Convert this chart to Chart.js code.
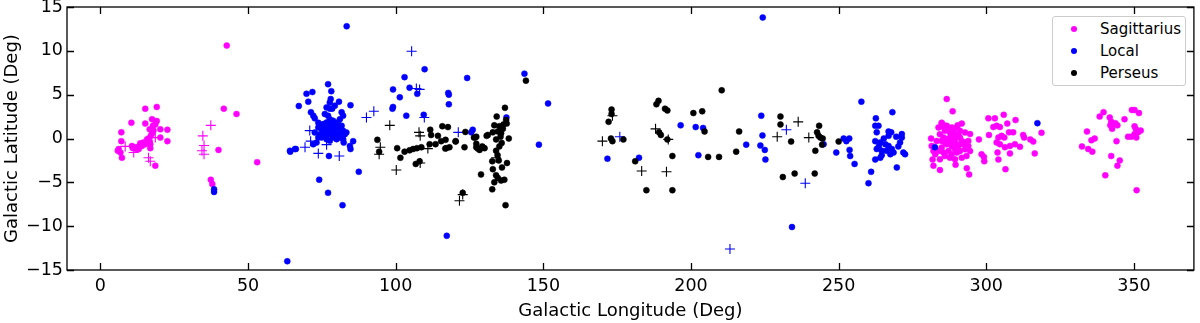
<!DOCTYPE html>
<html>
<head>
<meta charset="utf-8">
<script src="https://cdn.jsdelivr.net/npm/chart.js@4.4.1/dist/chart.umd.min.js"></script>
<style>
  html, body { margin: 0; padding: 0; background: #fff; }
  #wrap { position: relative; width: 1200px; height: 323px; }
  #legend {
    position: absolute; left: 1052px; top: 16px; width: 132px; height: 68px;
    border: 1px solid #cccccc; border-radius: 3px; background: #fff;
    font-family: "DejaVu Sans", sans-serif; font-size: 15px; color: #000;
  }
  #legend .row { position: absolute; left: 0; height: 20px; line-height: 20px; }
  #legend .dot { position: absolute; left: 18px; top: 7px; width: 6px; height: 6px; border-radius: 50%; }
  #legend .lbl { position: absolute; left: 47px; top: 0; white-space: nowrap; }
</style>
</head>
<body>
<div id="wrap">
  <canvas id="chartjs_scatter" width="1200" height="323"></canvas>
  <div id="legend"></div>
</div>
<script>
'use strict';

// tick labels
var xTicks = [0, 50, 100, 150, 200, 250, 300, 350];
var yTicks = [-15, -10, -5, 0, 5, 10, 15];

// series names and colours
var armNames = ['Sagittarius', 'Local', 'Perseus'];
var armColors = ['#ff00ff', '#0000ff', '#000000'];

// [longitude, latitude] in degrees
var sagittariusDots = [
    [5.9,-1.4],[6.2,-1.2],[6.8,-1.6],[7.3,-2.2],[7.1,0.7],[7.1,-0.3],
    [10.5,1.8],[10.7,-0.85],[11.0,-1.1],[11.8,-1.0],[12.2,-1.2],[12.9,-0.95],[13.5,-0.55],[14.1,-0.85],
    [14.6,-0.45],[15.2,-0.65],[15.2,3.4],[15.2,1.7],[15.8,-0.1],[16.0,-0.45],[16.7,-0.3],[16.9,-0.65],
    [16.9,-1.1],[16.7,1.05],[17.1,0.3],[17.5,0.6],[17.8,1.45],[18.0,0.9],[17.5,2.2],[18.6,1.6],[19.1,2.0],
    [19.1,3.6],[20.3,1.05],[20.3,0.1],[22.7,1.0],[22.7,-0.3],[18.6,-3.1],[13.0,-1.2],[16.3,0.0],
    [37.4,-4.7],[37.9,-5.2],[40.0,-1.3],[41.8,3.4],[42.8,10.6],[46.1,2.8],[53.1,-2.7],
    [281.3,0.0],[281.5,-0.85],[281.8,-2.4],[282.1,-3.1],[284.3,-3.6],[286.6,4.5],[288.6,3.1],[290.3,1.5],
    [291.7,1.7],[284.9,1.8],[286.0,1.45],[289.6,-3.0],[293.4,-3.4],[294.2,-4.1],[294.5,0.5],[297.5,-0.1],
    [298.4,-1.8],[299.2,-2.1],[299.3,-2.6],
    [283.8,1.26],[284.9,1.72],[285.5,1.3],[286.6,1.45],[286.0,0.87],[287.2,1.07],[287.7,0.69],[288.3,1.26],
    [284.3,0.49],[285.5,0.11],[286.6,-0.08],[287.7,0.11],[288.9,0.3],[289.4,-0.08],[290.5,0.49],[291.1,0.11],
    [291.7,-0.28],[292.2,-0.66],[290.0,-0.66],[288.3,-0.85],[286.6,-0.66],[284.9,-1.03],[283.8,-1.43],
    [285.5,-1.61],[287.2,-1.43],[288.3,-1.8],[290.0,-1.61],[291.1,-1.43],[292.8,-1.23],[293.9,-0.85],
    [294.5,-1.43],[293.3,-2.0],[291.7,-2.2],[289.4,-2.38],[287.7,-2.2],[286.0,-2.0],[284.3,-2.38],[282.7,-1.8],
    [283.2,-0.28],[291.1,0.87],[292.8,0.69],[293.9,-0.28],[282.1,-1.43],[284.9,-0.28],[286.0,-0.46],
    [287.7,-0.46],[288.9,-0.66],[290.5,-0.85],[289.4,-1.23],[292.8,-0.46],[288.9,0.87],[290.0,1.26],
    [300.7,2.3],[302.9,2.3],[305.9,2.7],[309.9,2.1],[302.4,1.3],[303.5,1.45],[304.6,1.3],[307.1,1.7],
    [300.9,0.4],[304.1,0.1],[305.2,0.3],[306.1,0.1],[307.7,0.7],[309.1,0.7],[303.5,-0.45],[304.6,-0.65],
    [306.3,-1.0],[308.0,-0.85],[309.7,-0.65],[303.8,-1.6],[304.1,-2.4],[308.0,-1.7],[306.5,-3.5],[312.5,0.4],
    [312.8,0.1],[314.9,-0.1],[315.9,-0.35],[311.4,-0.95],[316.4,-1.7],[318.7,0.65],
    [332.4,-0.9],[334.1,0.8],[334.5,-1.2],[335.9,-1.5],[335.6,-0.2],[336.7,0.0],[338.4,2.5],[339.7,3.0],
    [341.8,2.4],[342.3,1.9],[342.9,1.6],[343.7,1.75],[344.4,1.5],[342.0,1.5],[342.6,1.1],[346.8,2.2],
    [349.3,3.25],[350.2,3.25],[351.7,2.9],[350.2,1.4],[350.6,1.1],[352.3,0.9],[351.4,0.7],[350.2,0.5],
    [349.1,0.2],[348.0,0.2],[350.8,0.1],[344.1,-0.3],[342.3,-2.0],[345.2,-2.5],[344.4,-3.1],[340.3,-4.2],
    [350.9,-5.9]
];
var sagittariusCrosses = [
    [8.4,-0.9],[11.3,-1.6],[16.3,-2.2],[16.9,-2.6],[18.6,0.1],
    [34.7,0.3],[35.1,-0.8],[34.4,-1.4],[35.1,-1.8],[37.4,1.5]
];

var localDots = [
    [38.5,-5.8],[38.5,-6.1],[63.3,-14.0],[64.3,-1.5],[66.2,-1.2],[64.2,-1.4],[65.9,-1.2],[67.2,3.7],
    [69.8,5.1],[71.8,5.3],[70.4,4.2],[77.1,6.2],[78.2,5.4],[78.0,4.5],[77.7,4.1],[79.4,3.75],[80.8,4.2],
    [78.5,3.4],[77.7,3.4],[84.7,3.8],[83.4,12.8],[71.3,3.0],[72.1,2.6],[72.6,2.3],[73.8,1.8],[81.7,3.0],
    [82.2,2.6],[81.1,2.2],[80.0,1.8],[76.6,3.55],[76.0,2.8],[77.1,2.6],[77.7,2.2],
    [74.3,1.45],[75.5,1.64],[76.6,1.83],[77.7,1.64],[78.8,1.45],[80.0,1.26],[81.1,1.07],[82.2,0.88],
    [74.9,1.07],[76.0,0.88],[77.1,1.07],[78.3,0.88],[79.4,0.69],[80.5,0.49],[81.7,0.69],[82.8,0.49],
    [75.5,0.49],[76.6,0.3],[77.7,0.49],[78.8,0.11],[80.0,-0.08],[81.1,0.11],[82.2,-0.08],[74.3,0.49],
    [73.8,0.11],[76.6,-0.08],[77.7,-0.27],[83.3,0.69],[72.6,0.69],[73.8,1.26],[78.8,2.03],[80.5,1.64],
    [78.3,1.26],[76.0,1.45],[77.1,0.69],[79.4,1.07],[81.7,1.45],[74.9,0.11],[78.8,0.69],
    [73.2,-0.47],[72.1,-0.66],[82.4,-0.47],[84.5,-0.85],[85.6,-0.3],[84.7,-1.2],[77.4,-2.0],[74.1,-4.7],
    [77.1,-6.2],[82.0,-7.6],[87.5,-3.8],
    [99.1,5.6],[103.0,7.0],[109.8,7.9],[101.4,4.7],[99.1,3.6],[98.9,3.4],[103.6,2.6],[104.7,5.8],
    [107.3,5.1],[109.5,2.7],[117.8,5.2],[118.0,5.0],[118.0,3.9],[124.2,6.9],[126.1,1.0],[125.6,0.7],
    [117.3,-11.1],[143.6,7.4],[151.6,4.0],[148.5,-0.7],[137.5,2.4],
    [171.7,-2.3],[182.4,-2.2],[196.5,1.5],[201.6,1.3],[204.1,1.2],[202.5,-1.9],[218.7,-0.7],[223.8,2.6],
    [224.2,0.35],[223.5,-0.8],[225.0,-1.3],[225.2,-2.4],[224.3,13.8],[234.2,-10.1],[244.9,-0.65],
    [249.2,-1.6],[251.7,0.0],[253.6,0.0],[252.6,-0.3],[253.7,-1.3],[253.9,-2.0],[255.4,-2.9],[257.7,4.2],
    [260.1,-5.1],[261.0,-3.8],
    [262.6,2.3],[268.2,3.0],[262.4,1.45],[263.5,1.45],[262.9,0.7],[266.9,0.8],[267.8,0.7],[266.9,0.3],
    [271.4,0.5],[271.4,0.1],[270.8,-0.45],[262.4,-0.3],[264.1,-0.45],[265.8,-0.65],[266.9,-0.85],
    [268.0,-1.2],[268.6,-1.6],[262.9,-1.2],[264.6,-1.4],[262.4,-2.4],[264.1,-2.2],[264.6,-1.9],[267.5,-1.8],
    [272.5,-1.8],[271.9,-1.6],[269.7,-3.3],[265.3,0.0],[263.6,-0.9],[266.2,-1.4],[269.5,0.2],[270.2,-0.9],
    [282.6,-1.0],[317.3,1.75]
];
var localCrosses = [
    [70.9,0.9],[71.2,-0.3],[69.3,-1.0],[73.8,-1.7],[76.6,-0.7],[80.9,-2.0],[90.1,2.4],[92.6,3.1],
    [105.4,9.95],[107.0,5.7],[108.1,5.6],[109.7,2.4],[121.2,0.7],[175.9,0.2],[213.2,-12.6],[238.7,-5.1],
    [232.3,1.0]
];

var perseusDots = [
    [93.8,-0.15],[94.4,-1.5],[100.5,-1.1],[101.6,-2.2],[103.0,-1.5],[104.7,-1.35],[105.9,-1.2],[107.2,-1.1],
    [108.7,-1.0],[111.5,-0.65],[106.8,-2.9],[108.1,-2.6],[111.7,1.0],[112.0,0.4],[113.5,-0.65],[114.3,0.3],
    [115.8,1.4],[117.7,1.3],[115.4,-0.3],[116.9,-0.15],[116.8,-1.15],[117.1,-1.1],[118.2,-1.0],[120.3,-0.35],
    [120.3,-0.3],[123.6,0.75],[123.3,-1.0],[126.5,0.1],[127.3,-0.6],[127.3,-1.0],[127.3,0.2],[128.4,-1.3],
    [129.5,-1.0],[130.8,0.3],[122.7,-6.2],
    [137.0,3.5],[134.2,2.5],[137.4,2.1],[133.4,1.5],[135.1,1.4],[136.3,1.1],[137.6,1.7],[131.2,0.4],
    [132.9,0.7],[134.6,0.8],[135.7,0.6],[138.3,0.0],[134.0,-0.1],[135.9,-0.5],[135.1,-0.9],[134.0,-1.4],
    [126.9,0.1],[127.8,-1.15],[130.1,-1.1],[129.3,-0.9],[132.7,-2.6],[134.9,-2.5],[137.7,-2.8],[132.9,-3.5],
    [134.0,-4.2],[134.6,-4.5],[133.4,-5.0],[135.7,-4.8],[136.8,-4.7],[128.9,-4.1],[132.7,-5.8],[137.2,-7.6],
    [136.5,1.6],[135.5,0.2],[134.5,-1.9],[136.0,-3.3],[144.1,6.6],
    [173.1,3.3],[173.1,2.8],[172.1,1.9],[172.9,0.0],[173.4,-0.3],[177.1,-0.1],[181.1,-2.6],[184.9,-5.9],
    [188.3,3.9],[189.0,4.3],[189.2,0.7],[189.8,0.4],[191.2,3.4],[192.0,3.2],[192.0,-0.1],[193.7,-2.0],
    [193.7,-5.9],[200.8,2.9],[203.8,3.1],[204.6,0.8],[205.8,-2.1],[209.5,-2.1],[210.4,5.5],[215.3,-1.5],
    [216.3,0.8],[230.3,2.5],[230.3,1.6],[233.9,-0.35],[231.1,-4.4],[235.1,-4.0],[241.9,-4.0],[242.1,-1.4],
    [243.4,1.45],[242.7,0.7],[243.2,0.3],[243.8,0.1],[244.6,0.0],[244.4,-0.7],[250.0,-0.35]
];
var perseusCrosses = [
    [98.0,1.5],[94.8,-1.0],[94.4,-1.8],[100.2,-3.6],[107.9,0.7],[108.3,0.3],[110.9,-1.15],[108.3,-2.8],
    [121.6,-7.1],[122.7,-6.4],[134.0,-2.2],[170.0,-0.3],[173.4,2.6],[183.3,-3.7],[188.0,1.1],[191.7,-3.8],
    [192.3,-0.1],[229.2,0.2],[236.3,1.9],[239.9,0.1]
];

var FONT = '"DejaVu Sans", sans-serif';

function toPoints(arr) {
    return arr.map(function (p) { return { x: p[0], y: p[1] }; });
}

function dotSet(label, arr, color) {
    return {
        label: label, data: toPoints(arr), pointStyle: 'circle', pointRadius: 3,
        backgroundColor: color, borderColor: color, borderWidth: 0.5
    };
}

function crossSet(label, arr, color) {
    return {
        label: label, data: toPoints(arr), pointStyle: 'cross', pointRadius: 5,
        backgroundColor: color, borderColor: color, borderWidth: 1.1
    };
}

// box round the plot with inward ticks on all four sides
var frameTicks = {
    id: 'frameTicks',
    afterDatasetsDraw: function (chart) {
        var ctx = chart.ctx, a = chart.chartArea, x = chart.scales.x, y = chart.scales.y;
        ctx.save();
        ctx.strokeStyle = '#000';
        ctx.lineWidth = 1.3;
        ctx.strokeRect(a.left, a.top, a.right - a.left, a.bottom - a.top);
        ctx.beginPath();
        x.ticks.forEach(function (t) {
            var px = Math.round(x.getPixelForValue(t.value)) + 0.5;
            ctx.moveTo(px, a.bottom); ctx.lineTo(px, a.bottom - 7);
            ctx.moveTo(px, a.top); ctx.lineTo(px, a.top + 7);
        });
        y.ticks.forEach(function (t) {
            var py = Math.round(y.getPixelForValue(t.value)) + 0.5;
            ctx.moveTo(a.left, py); ctx.lineTo(a.left + 7, py);
            ctx.moveTo(a.right, py); ctx.lineTo(a.right - 7, py);
        });
        ctx.stroke();
        ctx.restore();
    }
};

function draw_chart() {
    var canvas = document.getElementById('chartjs_scatter');
    var ctx = canvas.getContext('2d');
    // later datasets are drawn underneath, so Perseus goes first (on top)
    var datasets = [
        crossSet('Perseus +', perseusCrosses, armColors[2]),
        dotSet(armNames[2], perseusDots, armColors[2]),
        crossSet('Local +', localCrosses, armColors[1]),
        dotSet(armNames[1], localDots, armColors[1]),
        crossSet('Sagittarius +', sagittariusCrosses, armColors[0]),
        dotSet(armNames[0], sagittariusDots, armColors[0])
    ];
    return new Chart(ctx, {
        type: 'scatter',
        data: { datasets: datasets },
        options: {
            responsive: false,
            animation: false,
            devicePixelRatio: 1,
            layout: { padding: { left: 0, right: 6, top: 7, bottom: 0 } },
            plugins: { legend: { display: false }, tooltip: { enabled: false } },
            scales: {
                x: {
                    type: 'linear', position: 'bottom', min: -11.3, max: 370.3,
                    afterBuildTicks: function (s) { s.ticks = xTicks.map(function (v) { return { value: v }; }); },
                    afterFit: function (s) { s.height = 53; s.paddingLeft = 0; s.paddingRight = 0; },
                    grid: { display: false, drawTicks: false },
                    border: { display: false },
                    ticks: { color: '#000', padding: 6, maxRotation: 0, autoSkip: false,
                             font: { family: FONT, size: 17.5 } },
                    title: { display: true, text: 'Galactic Longitude (Deg)', color: '#000',
                             font: { family: FONT, size: 18 }, padding: { top: 0, bottom: 1 } }
                },
                y: {
                    type: 'linear', min: -15, max: 15,
                    afterBuildTicks: function (s) { s.ticks = yTicks.map(function (v) { return { value: v }; }); },
                    afterFit: function (s) { s.width = 67; s.paddingTop = 0; s.paddingBottom = 0; },
                    grid: { display: false, drawTicks: false },
                    border: { display: false },
                    ticks: { color: '#000', padding: 4, autoSkip: false,
                             font: { family: FONT, size: 17.5 },
                             callback: function (v) { return String(v).replace('-', '\u2212'); } },
                    title: { display: true, text: 'Galactic Latitude (Deg)', color: '#000',
                             font: { family: FONT, size: 18 }, padding: { top: 2, bottom: 0 } }
                }
            }
        },
        plugins: [frameTicks]
    });
}

function draw_legend() {
    var box = document.getElementById('legend');
    armNames.forEach(function (name, i) {
        var row = document.createElement('div');
        row.className = 'row';
        row.style.top = (2 + i * 22) + 'px';
        row.innerHTML = '<span class="dot" style="background:' + armColors[i] + '"></span>' +
                        '<span class="lbl">' + name + '</span>';
        box.appendChild(row);
    });
}

draw_chart();
draw_legend();
</script>
</body>
</html>
